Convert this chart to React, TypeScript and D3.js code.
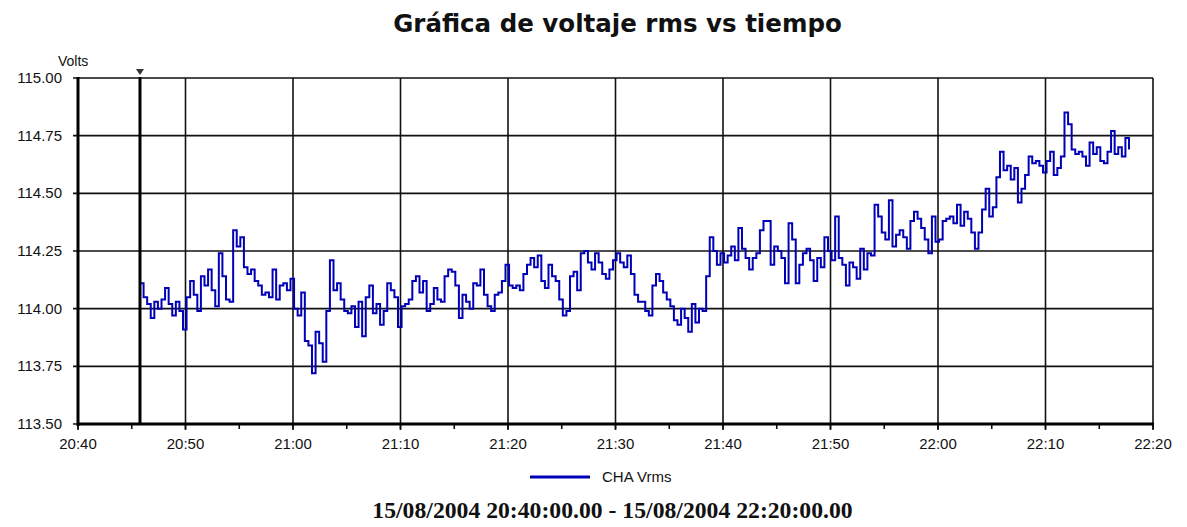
import React from "react";
import * as d3 from "d3";

const title = "Gráfica de voltaje rms vs tiempo";
const yLabel = "Volts";
const legendLabel = "CHA Vrms";
const footer = "15/08/2004 20:40:00.00 - 15/08/2004 22:20:00.00";

const domainStart = new Date(2004, 7, 15, 20, 40, 0);
const domainEnd = new Date(2004, 7, 15, 22, 20, 0);
const firstSample = new Date(2004, 7, 15, 20, 45, 46);
const sampleSeconds = 20;
const cursorTime = new Date(2004, 7, 15, 20, 45, 46);

const yTicks = [113.5, 113.75, 114.0, 114.25, 114.5, 114.75, 115.0];

const vrms = [
  114.11,114.05,114.02,113.96,114.03,114.00,114.04,114.09,114.02,113.97,
  114.03,113.99,113.91,114.05,114.12,114.06,113.99,114.14,114.10,114.17,
  114.08,114.01,114.24,114.14,114.04,114.03,114.34,114.27,114.31,114.18,
  114.15,114.17,114.12,114.10,114.06,114.07,114.05,114.17,114.04,114.10,
  114.11,114.08,114.13,114.00,113.97,114.07,113.86,113.84,113.72,113.90,
  113.85,113.77,113.99,114.21,
  114.08,114.11,114.04,113.99,113.98,114.01,113.92,114.03,113.88,114.05,
  114.10,113.98,114.02,113.93,113.99,114.11,114.08,114.05,113.92,114.01,
  114.02,114.04,114.12,114.14,114.07,114.12,113.99,114.02,114.09,114.04,
  114.03,114.14,114.17,114.16,114.10,113.96,114.06,114.03,114.00,114.11,
  114.10,114.17,114.06,114.01,113.99,114.06,114.07,114.12,114.19,114.10,
  114.09,114.10,114.08,
  114.15,114.19,114.22,114.18,114.23,114.12,114.09,114.19,114.14,114.12,
  114.04,113.97,113.99,114.14,114.16,114.08,114.24,114.25,114.20,114.17,
  114.24,114.20,114.15,114.13,114.17,114.21,114.24,114.20,114.18,114.23,
  114.15,114.06,114.03,114.03,113.99,113.97,114.10,114.15,114.12,114.07,
  114.04,114.01,113.95,113.93,114.00,113.96,113.90,114.02,113.94,114.00,
  113.99,114.14,
  114.31,114.25,114.19,114.24,114.20,114.23,114.27,114.21,114.35,114.26,
  114.22,114.17,114.22,114.24,114.34,114.38,114.38,114.19,114.27,114.25,
  114.22,114.11,114.37,114.30,114.11,114.19,114.24,114.26,114.21,114.12,
  114.22,114.18,114.31,114.25,114.21,114.40,114.22,114.19,114.10,114.20,
  114.18,114.13,114.26,114.17,114.24,114.23,114.45,114.40,114.33,114.30,
  114.47,114.27,114.32,
  114.34,114.31,114.26,114.38,114.42,114.39,114.35,114.30,114.24,114.40,
  114.29,114.30,114.38,114.39,114.40,114.37,114.45,114.36,114.42,114.39,
  114.33,114.26,114.33,114.43,114.52,114.40,114.44,114.57,114.68,114.60,
  114.62,114.56,114.61,114.46,114.52,114.58,114.66,114.63,
  114.64,114.62,114.59,114.64,114.68,114.58,114.61,114.66,114.85,114.80,
  114.69,114.67,114.68,114.66,114.62,114.72,114.67,114.70,114.64,114.63,
  114.68,114.77,114.67,114.70,114.66,114.74,114.69,
];

const W = 1187;
const H = 527;
const M = { left: 78, right: 1153, top: 78, bottom: 424 };
const lineColor = "#0000b8";
const sans = "'Liberation Sans', Arial, sans-serif";

export default function App() {
  const x = d3.scaleTime().domain([domainStart, domainEnd]).range([M.left, M.right]);
  const y = d3.scaleLinear().domain([113.5, 115]).range([M.bottom, M.top]);
  const data = vrms.map((v, i) => ({
    t: new Date(firstSample.getTime() + i * sampleSeconds * 1000),
    v,
  }));
  const line = d3
    .line<{ t: Date; v: number }>()
    .x((d) => x(d.t))
    .y((d) => y(d.v))
    .curve(d3.curveStepAfter);
  const majorTicks = x.ticks(d3.timeMinute.every(10)!);
  const minorTicks = x.ticks(d3.timeMinute.every(5)!);
  const fmt = d3.timeFormat("%H:%M");
  const cx = x(cursorTime);
  const midX = (M.left + M.right) / 2;

  return (
    <svg
      width={W}
      height={H}
      style={{ position: "absolute", left: 0, top: 0, background: "#fff" }}
    >
      <rect x={0} y={0} width={W} height={H} fill="#fff" />
      <text
        x={midX + 2}
        y={32}
        textAnchor="middle"
        fontFamily="'DejaVu Sans', Verdana, sans-serif"
        fontWeight="bold"
        fontSize={24.5}
        fill="#111"
      >
        {title}
      </text>

      {/* horizontal grid */}
      {yTicks.map((t) => (
        <g key={"y" + t}>
          <line x1={M.left - 5} x2={M.right} y1={y(t)} y2={y(t)} stroke="#111" strokeWidth={1.6} />
          <text
            x={M.left - 16}
            y={y(t) + 5}
            textAnchor="end"
            fontFamily={sans}
            fontSize={15}
            fill="#111"
          >
            {t.toFixed(2)}
          </text>
        </g>
      ))}
      <text x={58} y={66} fontFamily={sans} fontSize={14} fill="#111">
        {yLabel}
      </text>

      {/* vertical grid */}
      {majorTicks.map((t) => (
        <line
          key={"g" + t.getTime()}
          x1={x(t)}
          x2={x(t)}
          y1={M.top}
          y2={M.bottom + 6}
          stroke="#111"
          strokeWidth={1.6}
        />
      ))}
      {minorTicks.map((t) => (
        <line
          key={"m" + t.getTime()}
          x1={x(t)}
          x2={x(t)}
          y1={M.bottom}
          y2={M.bottom + 5}
          stroke="#111"
          strokeWidth={1.6}
        />
      ))}
      {majorTicks.map((t) => (
        <text
          key={"l" + t.getTime()}
          x={x(t)}
          y={M.bottom + 25}
          textAnchor="middle"
          fontFamily={sans}
          fontSize={15}
          fill="#111"
        >
          {fmt(t)}
        </text>
      ))}

      {/* axes */}
      <line x1={M.left} x2={M.left} y1={M.top - 1} y2={M.bottom + 2} stroke="#000" strokeWidth={3} />
      <line x1={M.left} x2={M.right + 1} y1={M.bottom} y2={M.bottom} stroke="#000" strokeWidth={3} />

      {/* data */}
      <path d={line(data) || ""} fill="none" stroke={lineColor} strokeWidth={2} />

      {/* cursor */}
      <line x1={cx} x2={cx} y1={M.top - 1} y2={M.bottom} stroke="#000" strokeWidth={3} />
      <path
        d={`M${cx - 4},${M.top - 9} L${cx + 4},${M.top - 9} L${cx},${M.top - 3} Z`}
        fill="#333"
      />

      {/* legend */}
      <line x1={530} x2={590} y1={477} y2={477} stroke={lineColor} strokeWidth={3} />
      <text x={602} y={482} fontFamily={sans} fontSize={15} fill="#111">
        {legendLabel}
      </text>

      <text
        x={midX - 3}
        y={518}
        textAnchor="middle"
        fontFamily="'Liberation Serif', 'Times New Roman', serif"
        fontWeight="bold"
        fontSize={23.7}
        fill="#111"
      >
        {footer}
      </text>
    </svg>
  );
}
